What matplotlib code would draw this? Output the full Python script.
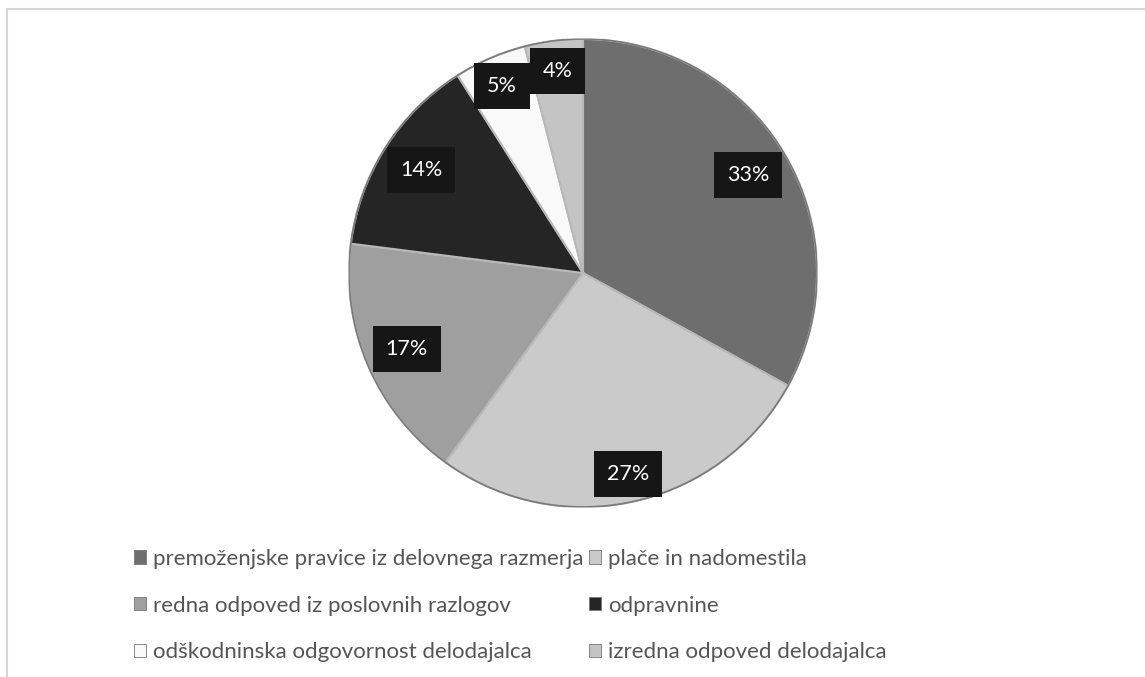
import matplotlib.pyplot as plt
from matplotlib.patches import Patch
from matplotlib.lines import Line2D

# ---------------------------------------------
# DATA
# ---------------------------------------------

categories = [
    "premoženjske pravice iz delovnega razmerja",
    "plače in nadomestila",
    "redna odpoved iz poslovnih razlogov",
    "odpravnine",
    "odškodninska odgovornost delodajalca",
    "izredna odpoved delodajalca",
]
shares = [33, 27, 17, 14, 5, 4]

colors = ["#6e6e6e", "#cacaca", "#9f9f9f", "#252525", "#f9f9f9", "#c4c4c4"]
label_dist = [0.82, 0.88, 0.82, 0.82, 0.87, 0.87]

W, H = 1145, 677
CX, CY, R = 583, 273, 234

plt.rcParams["font.family"] = ["Lato", "DejaVu Sans"]

fig = plt.figure(figsize=(W / 100, H / 100), dpi=100)
fig.patch.set_facecolor("white")

# thin frame on the top and left
fig.add_artist(Line2D([7 / W, 1.0], [1 - 9 / H, 1 - 9 / H], color="#d6d6d6", lw=1.5))
fig.add_artist(Line2D([7 / W, 7 / W], [0.0, 1 - 9 / H], color="#d6d6d6", lw=1.5))

ax = fig.add_axes([(CX - R) / W, (H - CY - R) / H, 2 * R / W, 2 * R / H])

wedges, _, autotexts = ax.pie(
    shares,
    colors=colors,
    startangle=90,
    counterclock=False,
    autopct=lambda p: f"{p:.0f}%",
    pctdistance=0.85,
    wedgeprops=dict(edgecolor="#b8b8b8", linewidth=1.5),
    textprops=dict(color="white", fontsize=15.5),
)

# outer rim
ax.add_patch(plt.Circle((0, 0), 1.0, fill=False, edgecolor="#7a7a7a", linewidth=1.2))

# shift each percentage box along its radius
for t, d in zip(autotexts, label_dist):
    x, y = t.get_position()
    r = (x ** 2 + y ** 2) ** 0.5
    t.set_position((x / r * d, y / r * d))
    t.set_bbox(dict(boxstyle="square,pad=0.6", facecolor="#161616", edgecolor="none"))

ax.set_xlim(-1, 1)
ax.set_ylim(-1, 1)
ax.set_aspect("equal")
ax.axis("off")

# legend: row-major order in two columns
order = [0, 2, 4, 1, 3, 5]
handles = [Patch(facecolor=colors[i], edgecolor="#777777", linewidth=0.6) for i in order]
labels = [categories[i] for i in order]
fig.legend(
    handles,
    labels,
    ncol=2,
    loc="upper left",
    bbox_to_anchor=(125 / W, 1 - 540 / H),
    frameon=False,
    fontsize=16,
    labelcolor="#555555",
    handlelength=0.55,
    handleheight=0.55,
    handletextpad=0.3,
    columnspacing=0.25,
    labelspacing=1.2,
    borderaxespad=0.0,
)

plt.savefig("out.png", dpi=100)
